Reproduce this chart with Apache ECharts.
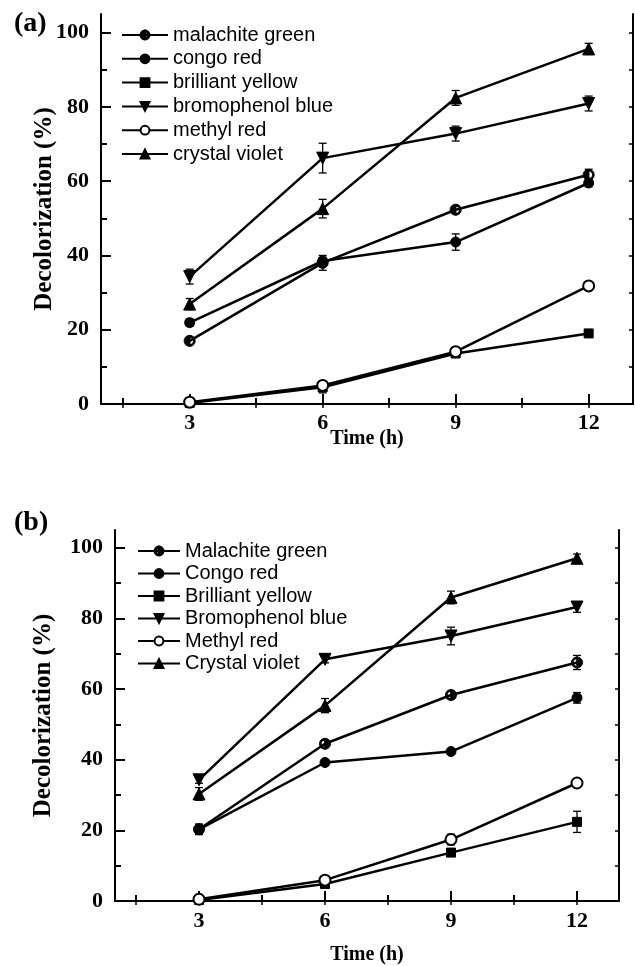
<!DOCTYPE html>
<html>
<head>
<meta charset="utf-8">
<script src="https://cdn.jsdelivr.net/npm/echarts@6/dist/echarts.min.js"></script>
<style>
  html, body { margin: 0; padding: 0; background: #fff; }
  #chart { width: 635px; height: 966px; }
</style>
</head>
<body>
<div id="chart"></div>
<script>
// sampling times (h)
var times = [3, 6, 9, 12];
var xLabels = [3, 6, 9, 12];
var yLabels = [0, 20, 40, 60, 80, 100];

// panel (a)
var namesA = ['malachite green', 'congo red', 'brilliant yellow', 'bromophenol blue', 'methyl red', 'crystal violet'];
var mgA = [17, 38, 52.3, 61.7];    var mgAErr = [1, 2, 1, 1.5];
var crA = [21.9, 38.5, 43.6, 59.5]; var crAErr = [1, 1, 2.2, 1];
var byA = [0.3, 4.5, 13.6, 19];    var byAErr = [0.3, 1.5, 0.8, 0.6];
var bbA = [34.3, 66.2, 72.8, 80.9]; var bbAErr = [2, 4, 2, 2];
var mrA = [0.5, 5, 14.1, 31.8];    var mrAErr = [1.2, 0.8, 0.8, 0.8];
var cvA = [26.9, 52.6, 82.4, 95.6]; var cvAErr = [1.5, 2.5, 2, 1.5];

// panel (b)
var namesB = ['Malachite green', 'Congo red', 'Brilliant yellow', 'Bromophenol blue', 'Methyl red', 'Crystal violet'];
var mgB = [20.3, 44.5, 58.3, 67.5]; var mgBErr = [1.2, 1, 1, 2];
var crB = [20.3, 39.2, 42.3, 57.5]; var crBErr = [1.5, 0.8, 0.8, 1.5];
var byB = [0.3, 4.8, 13.7, 22.4];  var byBErr = [0.3, 0.8, 1, 3];
var bbB = [34.3, 68.4, 75, 83.2];  var bbBErr = [1, 1, 2.5, 1.5];
var mrB = [0.5, 5.9, 17.4, 33.4];  var mrBErr = [1, 0.8, 1.5, 1];
var cvB = [30.3, 55.3, 85.9, 97];  var cvBErr = [1.8, 2, 1.8, 1.2];

// half filled circle marker, built from polygons (flip = -1 -> right half dark)
function halfCircle(flip) {
  function pt(r, deg) {
    var a = deg * Math.PI / 180;
    return (flip * r * Math.cos(a)).toFixed(2) + ' ' + (r * Math.sin(a)).toFixed(2);
  }
  var ring = [], disc = [], d;
  for (d = -90; d <= 90; d += 15) ring.push(pt(10, d));
  for (d = 90; d >= -90; d -= 15) ring.push(pt(7, d));
  for (d = 90; d <= 270; d += 15) disc.push(pt(10, d));
  return 'path://M' + ring.join(' L') + ' Z M' + disc.join(' L') + ' Z';
}

var serif = 'Liberation Serif';
var tickFont = { fontFamily: serif, fontWeight: 'bold', fontSize: 22, color: '#000' };
var black = '#000';

var chart = echarts.init(document.getElementById('chart'));

var xAxis = [], yAxis = [], series = [];

function addPanel(g, nameGapX, nameGapY, marginX) {
  var line = { show: true, lineStyle: { color: black, width: 2 } };
  // bottom: labels + major ticks
  xAxis.push({
    gridIndex: g, type: 'value', min: 1, max: 13, position: 'bottom',
    name: 'Time (h)', nameLocation: 'middle', nameGap: nameGapX, nameMoveOverlap: false,
    nameTextStyle: { fontFamily: serif, fontWeight: 'bold', fontSize: 20, color: black },
    axisLine: line, splitLine: { show: false },
    axisTick: { inside: true, length: 10, lineStyle: { color: black, width: 2 }, customValues: xLabels },
    axisLabel: Object.assign({ margin: marginX, customValues: xLabels }, tickFont)
  });
  // bottom minor ticks
  xAxis.push({
    gridIndex: g, type: 'value', min: 1, max: 13, position: 'bottom',
    axisLine: { show: false }, splitLine: { show: false }, axisLabel: { show: false },
    axisTick: { inside: true, length: 6, lineStyle: { color: black, width: 2 }, customValues: [1.5, 4.5, 7.5, 10.5] }
  });
  // top frame
  xAxis.push({
    gridIndex: g, type: 'value', min: 1, max: 13, position: 'top',
    axisLine: line, splitLine: { show: false }, axisLabel: { show: false },
    axisTick: { inside: true, length: 4, lineStyle: { color: black, width: 1.5 }, customValues: [1.5, 3, 4.5, 6, 7.5, 9, 10.5, 12] }
  });
  yAxis.push({
    gridIndex: g, type: 'value', min: 0, max: 105, position: 'left',
    name: 'Decolorization (%)', nameLocation: 'middle', nameGap: nameGapY, nameRotate: 90, nameMoveOverlap: false,
    nameTextStyle: { fontFamily: serif, fontWeight: 'bold', fontSize: 25, color: black },
    axisLine: line, splitLine: { show: false },
    axisTick: { inside: true, length: 10, lineStyle: { color: black, width: 2 }, customValues: yLabels },
    axisLabel: Object.assign({ margin: 12, customValues: yLabels }, tickFont)
  });
  yAxis.push({
    gridIndex: g, type: 'value', min: 0, max: 105, position: 'left',
    axisLine: { show: false }, splitLine: { show: false }, axisLabel: { show: false },
    axisTick: { inside: true, length: 6, lineStyle: { color: black, width: 2 }, customValues: [10, 30, 50, 70, 90] }
  });
  yAxis.push({
    gridIndex: g, type: 'value', min: 0, max: 105, position: 'right',
    axisLine: line, splitLine: { show: false }, axisLabel: { show: false },
    axisTick: { inside: true, length: 4, lineStyle: { color: black, width: 1.5 }, customValues: [10, 20, 30, 40, 50, 60, 70, 80, 90, 100] }
  });
}

function errBars(v, e) {
  return times.map(function (t, i) { return [t, v[i] - e[i], v[i] + e[i]]; });
}

function renderErr(params, api) {
  var lo = api.coord([api.value(0), api.value(1)]);
  var hi = api.coord([api.value(0), api.value(2)]);
  var st = { stroke: black, lineWidth: 1.3 };
  return {
    type: 'group',
    children: [
      { type: 'line', shape: { x1: lo[0], y1: lo[1], x2: hi[0], y2: hi[1] }, style: st },
      { type: 'line', shape: { x1: lo[0] - 4, y1: lo[1], x2: lo[0] + 4, y2: lo[1] }, style: st },
      { type: 'line', shape: { x1: hi[0] - 4, y1: hi[1], x2: hi[0] + 4, y2: hi[1] }, style: st }
    ]
  };
}

function addSeries(g, names, vals, errs, half) {
  var syms = [half, 'circle', 'rect', 'triangle', 'emptyCircle', 'triangle'];
  var sizes = [11, 10, 9, 12, 11, 12];
  var rots = [0, 0, 0, 180, 0, 0];
  vals.forEach(function (v, k) {
    series.push({
      type: 'custom', xAxisIndex: g * 3, yAxisIndex: g * 3, z: 1,
      renderItem: renderErr, data: errBars(v, errs[k]), silent: true
    });
    series.push({
      name: names[k], type: 'line', xAxisIndex: g * 3, yAxisIndex: g * 3, z: 3,
      data: times.map(function (t, i) { return [t, v[i]]; }),
      symbol: syms[k], symbolSize: sizes[k], symbolRotate: rots[k],
      showAllSymbol: true,
      lineStyle: { color: black, width: 2.5 },
      itemStyle: { color: black, borderColor: black, borderWidth: 1 }
    });
  });
}

addPanel(0, 25, 44, 8);
addPanel(1, 44, 59, 9);
addSeries(0, namesA, [mgA, crA, byA, bbA, mrA, cvA], [mgAErr, crAErr, byAErr, bbAErr, mrAErr, cvAErr], halfCircle(1));
addSeries(1, namesB, [mgB, crB, byB, bbB, mrB, cvB], [mgBErr, crBErr, byBErr, bbBErr, mrBErr, cvBErr], halfCircle(-1));

var legendText = { fontFamily: 'Liberation Sans', fontSize: 20, lineHeight: 20, color: black };

chart.setOption({
  animation: false,
  backgroundColor: '#ffffff',
  grid: [
    { left: 101, top: 14, width: 532, height: 390 },
    { left: 115, top: 530, width: 504, height: 371 }
  ],
  xAxis: xAxis,
  yAxis: yAxis,
  legend: [
    {
      data: namesA, orient: 'vertical', left: 121, top: 25, padding: 0,
      itemWidth: 46, itemHeight: 11, itemGap: 3.8, selectedMode: false,
      textStyle: legendText
    },
    {
      data: namesB, orient: 'vertical', left: 137, top: 541, padding: 0,
      itemWidth: 42, itemHeight: 11, itemGap: 2.5, selectedMode: false,
      textStyle: legendText
    }
  ],
  graphic: [
    { type: 'text', left: 14, top: 10, style: { text: '(a)', fontFamily: serif, fontWeight: 'bold', fontSize: 28, fill: black } },
    { type: 'text', left: 14, top: 509, style: { text: '(b)', fontFamily: serif, fontWeight: 'bold', fontSize: 28, fill: black } }
  ],
  series: series
});
</script>
</body>
</html>
